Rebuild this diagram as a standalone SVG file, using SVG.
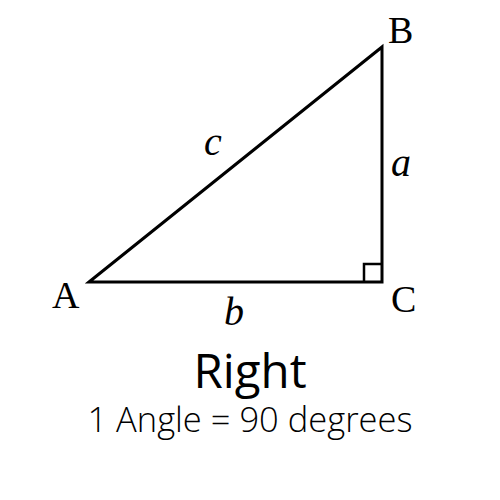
<svg xmlns="http://www.w3.org/2000/svg" width="500" height="500" viewBox="0 0 500 500">
<style>
.v{font-family:"Liberation Serif","DejaVu Serif",serif;font-size:38px;fill:#000}
.s{font-family:"Liberation Serif","DejaVu Serif",serif;font-style:italic;font-size:40px;fill:#000}
.t{font-family:"Open Sans",sans-serif;fill:#000;text-anchor:middle}
</style>
<rect width="500" height="500" fill="#fff"/>
<g id="connectors" fill="none" stroke="#000" stroke-width="3" stroke-linejoin="miter">
<polygon points="89,282 382,47 382,282"/>
<polyline points="364,282 364,264 382,264" stroke-width="2.5"/>
</g>
<g id="vertexA"><text class="v" x="52" y="308">A</text></g>
<g id="vertexB"><text class="v" x="388" y="43">B</text></g>
<g id="vertexC"><text class="v" x="391" y="312">C</text></g>
<g id="sidec"><text class="s" x="204" y="155">c</text></g>
<g id="sidea"><text class="s" x="391" y="176">a</text></g>
<g id="sideb"><text class="s" x="224" y="325">b</text></g>
<g id="title"><text class="t" x="250" y="388" font-size="47.5">Right</text></g>
<g id="subtitle"><text class="t" x="250" y="432" font-size="34.5" font-weight="300" fill="#222">1 Angle = 90 degrees</text></g>
</svg>
